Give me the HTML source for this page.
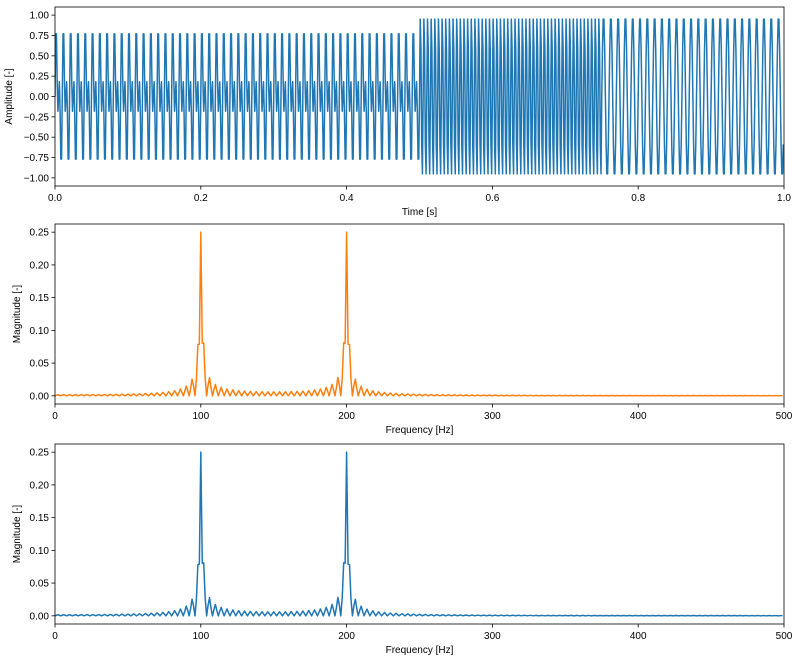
<!DOCTYPE html>
<html><head><meta charset="utf-8"><style>
body{margin:0;background:#fff;}
svg{display:block;font-family:"Liberation Sans","DejaVu Sans",sans-serif;}
</style></head><body>
<svg id="chart" width="799" height="659"></svg>
<script>
// Signal segments: [start, end, freqs, amplitude]
const segStarts = [0.0, 0.5, 0.75];
const segEnds = [0.5, 0.75, 1.0];
const segFreqs = [[100, 200], [200], [100]];
const segAmps = [0.5, 1.0, 1.0];
const sampleRate = 1000;
const timeTicks = [0.0, 0.2, 0.4, 0.6, 0.8, 1.0];
const ampTicks = [-1.0, -0.75, -0.5, -0.25, 0.0, 0.25, 0.5, 0.75, 1.0];
const freqTicks = [0, 100, 200, 300, 400, 500];
const magTicks = [0.0, 0.05, 0.10, 0.15, 0.20, 0.25];

const NS = "http://www.w3.org/2000/svg";
const svg = document.getElementById("chart");
function el(tag, attrs, parent) {
  const e = document.createElementNS(NS, tag);
  for (const k in attrs) e.setAttribute(k, attrs[k]);
  (parent || svg).appendChild(e);
  return e;
}

// build signal
const N = sampleRate;
const signal = [];
const times = [];
for (let n = 0; n < N; n++) {
  const t = n / sampleRate;
  let v = 0;
  for (let s = 0; s < segStarts.length; s++) {
    if (t >= segStarts[s] && t < segEnds[s]) {
      for (const f of segFreqs[s]) v += segAmps[s] * Math.sin(2 * Math.PI * f * t);
    }
  }
  times.push(t);
  signal.push(v);
}
// magnitude spectrum |X|/N
const freqs = [], mags = [];
for (let k = 0; k < N / 2; k++) {
  let re = 0, im = 0;
  for (let n = 0; n < N; n++) {
    const a = 2 * Math.PI * k * n / N;
    re += signal[n] * Math.cos(a);
    im -= signal[n] * Math.sin(a);
  }
  freqs.push(k * sampleRate / N);
  mags.push(Math.sqrt(re * re + im * im) / N);
}

const L = 55, R = 784;
function panel(cfg) {
  const g = el("g", {});
  
  
  const sx = v => L + (v - cfg.x0) / (cfg.x1 - cfg.x0) * (R - L);
  const sy = v => cfg.bottom - (v - cfg.y0) / (cfg.y1 - cfg.y0) * (cfg.bottom - cfg.top);
  let d = "";
  cfg.xs.forEach((x, i) => { d += (i ? "L" : "M") + sx(x).toFixed(2) + "," + sy(cfg.ys[i]).toFixed(2); });
  const clipId = "clip-" + cfg.name;
  const cp = el("clipPath", { id: clipId }, g);
  el("rect", { x: L, y: cfg.top, width: R - L, height: cfg.bottom - cfg.top }, cp);
  const line = el("path", { d: d, fill: "none", stroke: cfg.color, "stroke-width": 1.5, "stroke-linejoin": "round", "clip-path": "url(#" + clipId + ")" }, g);
  
  
  const frame = el("rect", { x: L, y: cfg.top, width: R - L, height: cfg.bottom - cfg.top, fill: "none", stroke: "#000", "stroke-width": 0.8 }, g);
  
  
  cfg.xt.forEach(v => {
    const x = sx(v);
    el("line", { x1: x, x2: x, y1: cfg.bottom, y2: cfg.bottom + 3.5, stroke: "#000", "stroke-width": 0.8 }, g);
    const t = el("text", { x: x, y: cfg.bottom + 15, "text-anchor": "middle", "font-size": 10, fill: "#000" }, g);
    t.textContent = cfg.xfmt(v);
    
    
  });
  cfg.yt.forEach(v => {
    const y = sy(v);
    el("line", { x1: L - 3.5, x2: L, y1: y, y2: y, stroke: "#000", "stroke-width": 0.8 }, g);
    const t = el("text", { x: L - 6, y: y + 3.5, "text-anchor": "end", "font-size": 10, fill: "#000" }, g);
    t.textContent = v.toFixed(2).replace("-", "\u2212");
    
    
  });
  const xl = el("text", { x: (L + R) / 2, y: cfg.bottom + 29, "text-anchor": "middle", "font-size": 10, fill: "#000" }, g);
  xl.textContent = cfg.xlabel;
  
  
  const cy = (cfg.top + cfg.bottom) / 2;
  const yl = el("text", { x: cfg.ylx, y: cy, "text-anchor": "middle", "font-size": 10, fill: "#000", transform: "rotate(-90 " + cfg.ylx + " " + cy + ")" }, g);
  yl.textContent = cfg.ylabel;
  
  
}

panel({ name: "time-signal-plot", top: 7, bottom: 186, x0: 0, x1: 1, y0: -1.1, y1: 1.1, xs: times, ys: signal, color: "#1f77b4",
  xt: timeTicks, yt: ampTicks, xfmt: v => v.toFixed(1), xlabel: "Time [s]", ylabel: "Amplitude [-]", ylx: 12 });
panel({ name: "spectrum-orange-plot", top: 224, bottom: 404, x0: 0, x1: 500, y0: -0.0125, y1: 0.2625, xs: freqs, ys: mags, color: "#ff7f0e",
  xt: freqTicks, yt: magTicks, xfmt: v => String(v), xlabel: "Frequency [Hz]", ylabel: "Magnitude [-]", ylx: 20 });
panel({ name: "spectrum-blue-plot", top: 444, bottom: 624, x0: 0, x1: 500, y0: -0.0125, y1: 0.2625, xs: freqs, ys: mags, color: "#1f77b4",
  xt: freqTicks, yt: magTicks, xfmt: v => String(v), xlabel: "Frequency [Hz]", ylabel: "Magnitude [-]", ylx: 20 });
</script>
</body></html>
